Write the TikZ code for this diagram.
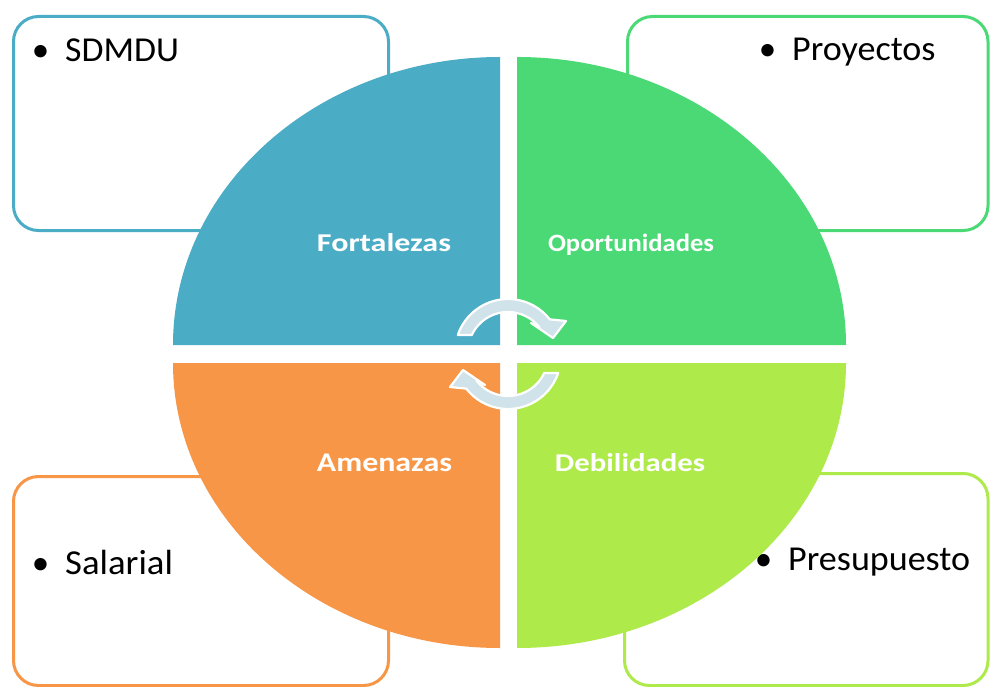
\documentclass[tikz,border=0pt]{standalone}
\usepackage{fontspec}
\setmainfont{Carlito}
\usetikzlibrary{calc}
\definecolor{qblue}{RGB}{75,172,198}
\definecolor{qgreen}{RGB}{74,217,117}
\definecolor{qorange}{RGB}{247,150,70}
\definecolor{qlime}{RGB}{174,234,74}
\definecolor{arrowfill}{RGB}{208,226,234}
\newcommand{\cyclearrow}{([shift={(205.2:40)}]508,352) arc[start angle=205.2, end angle=322, radius=40]
  -- (531,323) -- (553,338) -- (566,321)
  -- ([shift={(322:53)}]508,352) arc[start angle=322, end angle=198.7, radius=53] -- cycle}
\begin{document}
\begin{tikzpicture}[x=1pt,y=-1pt,
  boxline/.style={draw=#1, line width=3pt, rounded corners=25pt, fill=white},
  boxtext/.style={font=\fontsize{35}{40}\selectfont, text=black, inner sep=0pt, anchor=base west},
  qlabel/.style={font=\bfseries, text=white, inner sep=0pt, anchor=base},
  cyc/.style={fill=arrowfill, draw=white, line width=2.2pt, line join=round}]
\useasboundingbox[fill=white] (0,0) rectangle (990,687);
% boxes
\draw[boxline=qblue]   (13.5,16.5)  rectangle (388.5,230.5);
\draw[boxline=qgreen]  (627.5,16.5) rectangle (988,230.5);
\draw[boxline=qorange] (13.5,476.5) rectangle (388.5,685.5);
\draw[boxline=qlime]   (624.5,473.5) rectangle (988,685.5);
\node[boxtext] (t1) at (65,62)  {\llap{•\hspace{16pt}}\scalebox{1.02}[1]{SDMDU}};
\node[boxtext] (t2) at (792,61) {\llap{•\hspace{16pt}}\scalebox{1.03}[1]{Proyectos}};
\node[boxtext] (t3) at (65,574) {\llap{•\hspace{16pt}}\scalebox{1.05}[1]{Salarial}};
\node[boxtext] (t4) at (788,570) {\llap{•\hspace{16pt}}\scalebox{1.03}[1]{Presupuesto}};
% quadrants
\fill[qblue]   (500,345) -- (173,345) arc[start angle=180, end angle=270, x radius=327, y radius=288] -- cycle;
\fill[qgreen]  (517,345) -- (517,57)  arc[start angle=270, end angle=360, x radius=329, y radius=288] -- cycle;
\fill[qorange] (500,363) -- (173,363) arc[start angle=180, end angle=90,  x radius=327, y radius=285] -- cycle;
\fill[qlime]   (517,363) -- (846,363) arc[start angle=0,   end angle=90,  x radius=329, y radius=285] -- cycle;
% labels
\node[qlabel] (fo) at (384,251)   {\resizebox{134pt}{18pt}{Fortalezas}};
\node[qlabel] (op) at (631,251)   {\resizebox{166pt}{17.5pt}{Oportunidades}};
\node[qlabel] (am) at (384.5,471) {\resizebox{135pt}{17.5pt}{Amenazas}};
\node[qlabel] (de) at (630,471)   {\resizebox{150pt}{18pt}{Debilidades}};
% cycle arrows
\path[cyc] \cyclearrow;
\begin{scope}[rotate around={180:(508,354)}]
\path[cyc] \cyclearrow;
\end{scope}
\end{tikzpicture}
\end{document}
